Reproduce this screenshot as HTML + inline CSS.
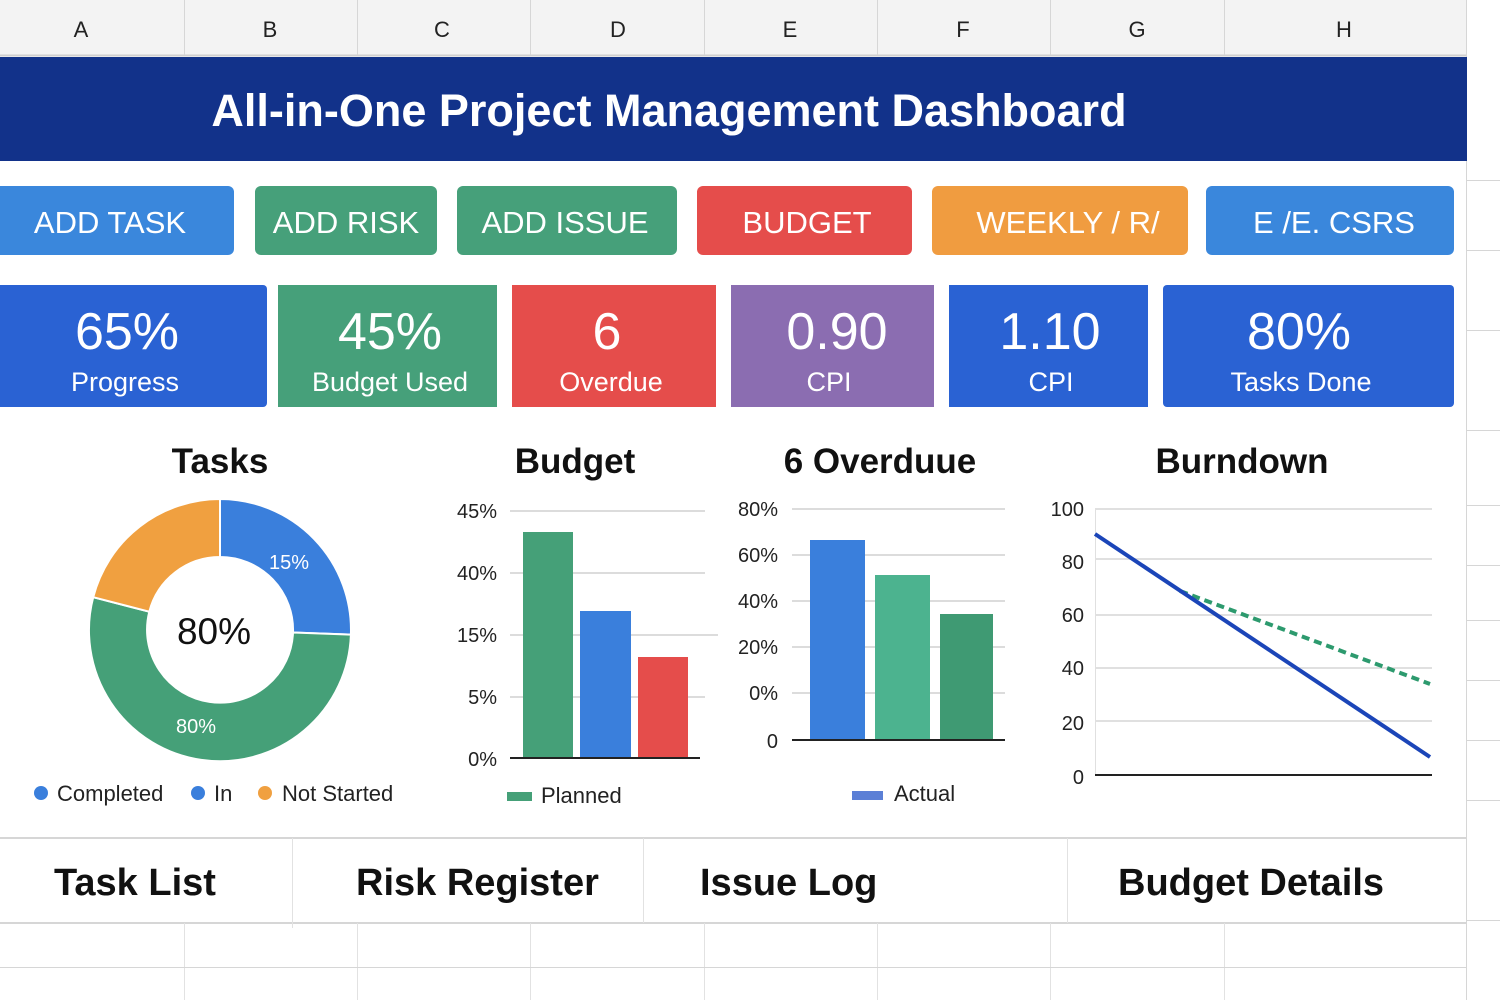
<!DOCTYPE html>
<html><head><meta charset="utf-8"><style>
html,body{margin:0;padding:0;background:#fff}
svg{display:block;font-family:"Liberation Sans",sans-serif}
</style></head><body>
<svg width="1500" height="1000" viewBox="0 0 1500 1000">
<rect width="1500" height="1000" fill="#fff"/>
<!-- header row -->
<rect x="0" y="0" width="1466" height="55" fill="#f3f3f3"/>
<line x1="0" y1="55.5" x2="1466" y2="55.5" stroke="#cfcfcf" stroke-width="2"/>
<g stroke="#d6d6d6" stroke-width="1">
<line x1="184.5" y1="0" x2="184.5" y2="55"/><line x1="357.5" y1="0" x2="357.5" y2="55"/><line x1="530.5" y1="0" x2="530.5" y2="55"/><line x1="704.5" y1="0" x2="704.5" y2="55"/><line x1="877.5" y1="0" x2="877.5" y2="55"/><line x1="1050.5" y1="0" x2="1050.5" y2="55"/><line x1="1224.5" y1="0" x2="1224.5" y2="55"/>
<line x1="1466.5" y1="0" x2="1466.5" y2="1000"/>
<line x1="1466" y1="180.5" x2="1500" y2="180.5"/><line x1="1466" y1="250.5" x2="1500" y2="250.5"/><line x1="1466" y1="330.5" x2="1500" y2="330.5"/><line x1="1466" y1="430.5" x2="1500" y2="430.5"/><line x1="1466" y1="505.5" x2="1500" y2="505.5"/><line x1="1466" y1="565.5" x2="1500" y2="565.5"/><line x1="1466" y1="620.5" x2="1500" y2="620.5"/><line x1="1466" y1="680.5" x2="1500" y2="680.5"/><line x1="1466" y1="740.5" x2="1500" y2="740.5"/><line x1="1466" y1="800.5" x2="1500" y2="800.5"/><line x1="1466" y1="920.5" x2="1500" y2="920.5"/>
</g>
<g font-size="22" fill="#222" text-anchor="middle">
<text x="81" y="37">A</text><text x="270" y="37">B</text><text x="442" y="37">C</text><text x="618" y="37">D</text><text x="790" y="37">E</text><text x="963" y="37">F</text><text x="1137" y="37">G</text><text x="1344" y="37">H</text>
</g>
<!-- title -->
<rect x="0" y="57" width="1467" height="104" fill="#12328a"/>
<text x="669" y="126" font-size="45" font-weight="bold" fill="#fff" text-anchor="middle">All-in-One Project Management Dashboard</text>
<!-- buttons -->
<g>
<rect x="-8" y="186" width="242" height="69" rx="6" fill="#3a87dc"/>
<rect x="255" y="186" width="182" height="69" rx="6" fill="#46a07a"/>
<rect x="457" y="186" width="220" height="69" rx="6" fill="#46a07a"/>
<rect x="697" y="186" width="215" height="69" rx="6" fill="#e54d4b"/>
<rect x="932" y="186" width="256" height="69" rx="6" fill="#f09c40"/>
<rect x="1206" y="186" width="248" height="69" rx="6" fill="#3a87dc"/>
</g>
<g font-size="31" fill="#fff" text-anchor="middle">
<text x="110" y="233">ADD TASK</text><text x="346" y="233">ADD RISK</text><text x="565" y="233">ADD ISSUE</text><text x="807" y="233">BUDGET</text><text x="1068" y="233">WEEKLY / R/</text><text x="1334" y="233">E /E. CSRS</text>
</g>
<!-- KPI -->
<rect x="-8" y="285" width="275" height="122" rx="4" fill="#2a62d3"/>
<rect x="278" y="285" width="219" height="122" fill="#46a07a"/>
<rect x="512" y="285" width="204" height="122" fill="#e54d4b"/>
<rect x="731" y="285" width="203" height="122" fill="#8b6db1"/>
<rect x="949" y="285" width="199" height="122" fill="#2a62d3"/>
<rect x="1163" y="285" width="291" height="122" rx="4" fill="#2a62d3"/>
<g fill="#fff" text-anchor="middle">
<g font-size="52"><text x="127" y="349">65%</text><text x="390" y="349">45%</text><text x="607" y="349">6</text><text x="837" y="349">0.90</text><text x="1050" y="349">1.10</text><text x="1299" y="349">80%</text></g>
<g font-size="27"><text x="125" y="391">Progress</text><text x="390" y="391">Budget Used</text><text x="611" y="391">Overdue</text><text x="829" y="391">CPI</text><text x="1051" y="391">CPI</text><text x="1301" y="391">Tasks Done</text></g>
</g>
<!-- chart titles -->
<g font-size="35" fill="#111" text-anchor="middle" font-weight="bold">
<text x="220" y="473">Tasks</text><text x="575" y="473">Budget</text><text x="880" y="473">6 Overduue</text><text x="1242" y="473">Burndown</text>
</g>
<!-- donut -->
<g stroke="#fff" stroke-width="2">
<path d="M220 499 A131 131 0 0 1 350.9 634.6 L293 632.5 A73 73 0 0 0 220 557Z" fill="#3a7fdc"/>
<path d="M350.9 634.6 A131 131 0 1 1 93.2 597.2 L149.3 611.7 A73 73 0 1 0 293 632.5Z" fill="#45a078"/>
<path d="M93.2 597.2 A131 131 0 0 1 220 499 L220 557 A73 73 0 0 0 149.3 611.7Z" fill="#f0a040"/>
</g>
<text x="214" y="644" font-size="37" fill="#111" text-anchor="middle">80%</text>
<text x="289" y="569" font-size="20" fill="#fff" text-anchor="middle">15%</text>
<text x="196" y="733" font-size="20" fill="#fff" text-anchor="middle">80%</text>
<circle cx="41" cy="793" r="7" fill="#3a7fdc"/><circle cx="198" cy="793" r="7" fill="#3a7fdc"/><circle cx="265" cy="793" r="7" fill="#f0a040"/>
<g font-size="22" fill="#222"><text x="57" y="801">Completed</text><text x="214" y="801">In</text><text x="282" y="801">Not Started</text></g>
<!-- budget chart -->
<g stroke="#dcdcdc" stroke-width="2">
<line x1="510" y1="511" x2="705" y2="511"/><line x1="510" y1="573" x2="705" y2="573"/><line x1="510" y1="635" x2="718" y2="635"/><line x1="510" y1="697" x2="705" y2="697"/>
</g>
<rect x="523" y="532" width="50" height="226" fill="#45a078"/>
<rect x="580" y="611" width="51" height="147" fill="#3a7fdc"/>
<rect x="638" y="657" width="50" height="101" fill="#e54d4b"/>
<line x1="510" y1="758" x2="700" y2="758" stroke="#222" stroke-width="2"/>
<g font-size="20" fill="#222" text-anchor="end"><text x="497" y="518">45%</text><text x="497" y="580">40%</text><text x="497" y="642">15%</text><text x="497" y="704">5%</text><text x="497" y="766">0%</text></g>
<rect x="507" y="792" width="25" height="9" fill="#45a078"/>
<text x="541" y="803" font-size="22" fill="#222">Planned</text>
<!-- overdue chart -->
<g stroke="#dcdcdc" stroke-width="2">
<line x1="792" y1="509" x2="1005" y2="509"/><line x1="792" y1="555" x2="1005" y2="555"/><line x1="792" y1="601" x2="1005" y2="601"/><line x1="792" y1="647" x2="1005" y2="647"/><line x1="792" y1="693" x2="1005" y2="693"/>
</g>
<rect x="810" y="540" width="55" height="200" fill="#3a7fdc"/>
<rect x="875" y="575" width="55" height="165" fill="#4cb38f"/>
<rect x="940" y="614" width="53" height="126" fill="#3f9a73"/>
<line x1="792" y1="740" x2="1005" y2="740" stroke="#222" stroke-width="2"/>
<g font-size="20" fill="#222" text-anchor="end"><text x="778" y="516">80%</text><text x="778" y="562">60%</text><text x="778" y="608">40%</text><text x="778" y="654">20%</text><text x="778" y="700">0%</text><text x="778" y="748">0</text></g>
<rect x="852" y="791" width="31" height="9" fill="#5b7fd6"/>
<text x="894" y="801" font-size="22" fill="#222">Actual</text>
<!-- burndown -->
<g stroke="#e0e0e0" stroke-width="2">
<line x1="1095" y1="509" x2="1432" y2="509"/><line x1="1095" y1="559" x2="1432" y2="559"/><line x1="1095" y1="615" x2="1432" y2="615"/><line x1="1095" y1="668" x2="1432" y2="668"/><line x1="1095" y1="721" x2="1432" y2="721"/>
</g>
<line x1="1095.5" y1="509" x2="1095.5" y2="775" stroke="#e0e0e0" stroke-width="1"/>
<line x1="1095" y1="775" x2="1432" y2="775" stroke="#222" stroke-width="2"/>
<g font-size="20" fill="#222" text-anchor="end"><text x="1084" y="516">100</text><text x="1084" y="569">80</text><text x="1084" y="622">60</text><text x="1084" y="675">40</text><text x="1084" y="730">20</text><text x="1084" y="784">0</text></g>
<line x1="1180" y1="591" x2="1430" y2="684" stroke="#2d9a6e" stroke-width="4" stroke-dasharray="8,5"/>
<line x1="1095" y1="534" x2="1430" y2="757" stroke="#1b45b8" stroke-width="4"/>
<!-- bottom tabs -->
<line x1="0" y1="838" x2="1466" y2="838" stroke="#d6d6d6" stroke-width="2"/>
<line x1="0" y1="923" x2="1466" y2="923" stroke="#d6d6d6" stroke-width="2"/>
<g stroke="#e2e2e2" stroke-width="1">
<line x1="292.5" y1="838" x2="292.5" y2="928"/><line x1="643.5" y1="838" x2="643.5" y2="923"/><line x1="1067.5" y1="838" x2="1067.5" y2="923"/>
<line x1="184.5" y1="923" x2="184.5" y2="1000"/><line x1="357.5" y1="923" x2="357.5" y2="1000"/><line x1="530.5" y1="923" x2="530.5" y2="1000"/><line x1="704.5" y1="923" x2="704.5" y2="1000"/><line x1="877.5" y1="923" x2="877.5" y2="1000"/><line x1="1050.5" y1="923" x2="1050.5" y2="1000"/><line x1="1224.5" y1="923" x2="1224.5" y2="1000"/>
<line x1="0" y1="967.5" x2="1466" y2="967.5" stroke="#d6d6d6"/>
</g>
<g font-size="38" fill="#111" font-weight="bold">
<text x="54" y="895">Task List</text><text x="356" y="895">Risk Register</text><text x="700" y="895">Issue Log</text><text x="1118" y="895">Budget Details</text>
</g>
</svg>
</body></html>
